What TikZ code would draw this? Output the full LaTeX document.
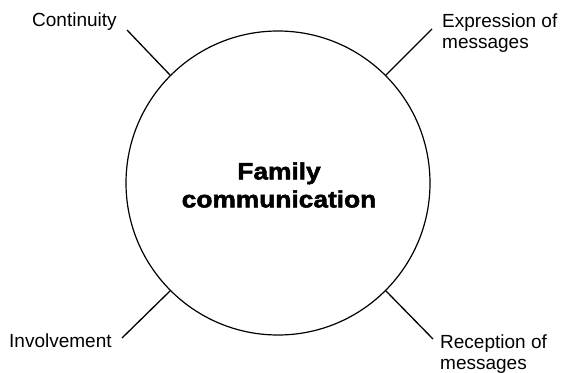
\documentclass[tikz,border=0pt]{standalone}
\usepackage{fontspec}
\setmainfont{Liberation Sans}
\newfontfamily\heavyfont[FakeBold=2.2,FakeStretch=1.12]{Liberation Sans Bold}
\begin{document}
\begin{tikzpicture}[x=1pt,y=-1pt,
  lbl/.style={inner sep=0pt, font=\fontsize{19}{21}\selectfont, align=left},
  ray/.style={line width=1.3pt, black}]
\useasboundingbox (0,0) rectangle (562,372);
\node[circle, draw, line width=1.2pt, minimum size=304pt, inner sep=0pt] (c) at (278,183) {};
\node[inner sep=0pt, align=center, font=\heavyfont\fontsize{23.5}{28}\selectfont] (t) at (279,185) {Family\\communication};
\node[lbl, anchor=base west] (l1) at (32,27) {Continuity};
\node[lbl, anchor=west] (l2) at (442,33) {Expression of\\messages};
\node[lbl, anchor=base west] (l3) at (9,347) {Involvement};
\node[lbl, anchor=west] (l4) at (440,354) {Reception of\\messages};
\coordinate (e1) at (127,30);
\coordinate (e2) at (432,29);
\coordinate (e3) at (122,338);
\coordinate (e4) at (433,339);
\draw[ray] (e1) -- (c.135);
\draw[ray] (e2) -- (c.45);
\draw[ray] (e3) -- (c.225);
\draw[ray] (e4) -- (c.315);
\end{tikzpicture}
\end{document}
